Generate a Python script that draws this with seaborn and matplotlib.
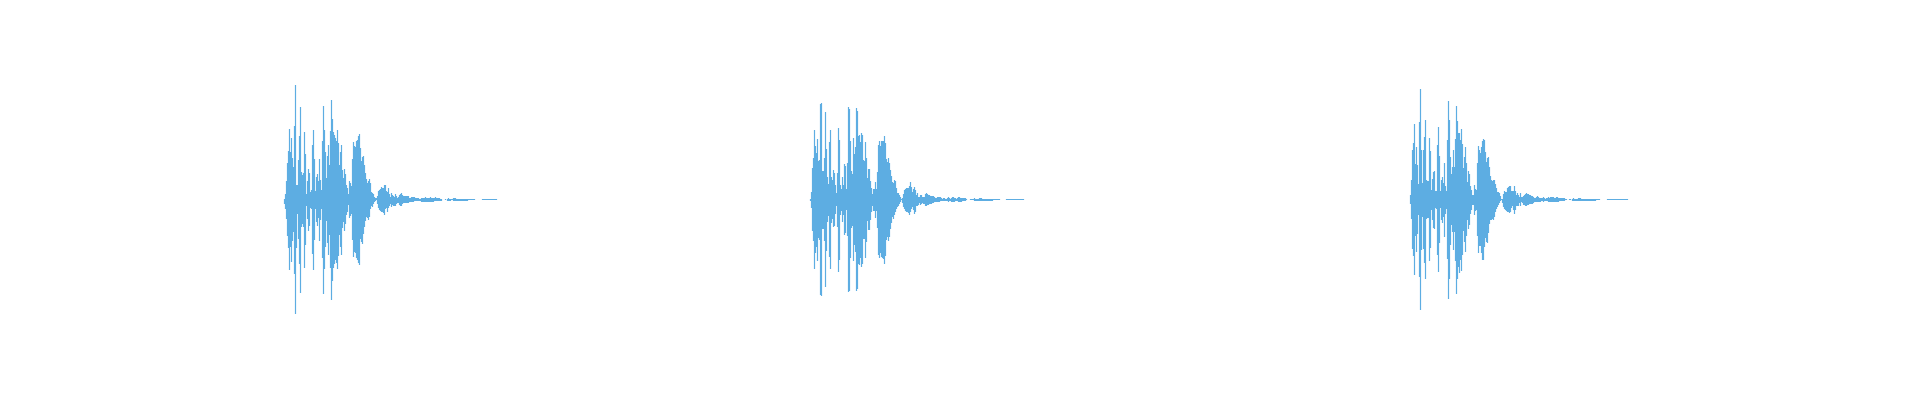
import numpy as np
import pandas as pd
import seaborn as sns
import matplotlib.pyplot as plt

nan = np.nan

# envelope of each waveform, one value per time step
top_a = [1, 6, 19, 37, 49, 71, 48, 62, 42, 33, 74, 115, 15, 15, 40, 64, 93, 28, 25, 27, 68, 46, 6, 19, 31, 27, 8, 10, 55, 70,
         41, 9, 23, 26, 19, 41, 20, 10, 59, 94, 70, 48, 22, 44, 55, 35, 69, 100, 81, 68, 65, 62, 59, 70, 57, 35, 48, 55, 30, 22,
         31, 26, 15, 12, 6, 19, 17, 14, 41, 58, 54, 53, 59, 60, 64, 66, 52, 39, 43, 44, 35, 27, 21, 17, 19, 21, 17, 8, 7, 6,
         3, 2, 2, 4, 9, 10, 11, 13, 12, 12, 15, 15, 9, 8, 12,
         6, 3, 7, 5, 4, 3, 6, 4, 2, 3, 5, 6, 7, 5, 4, 4, 4, 4, 4, 4,
         2, 2, 3, 3, 3, 3, 2, 2, 2, 2, 1, 1, 2, 2, 2, 2, 3, 2, 2, 2,
         2, 3, 2, 2, 2, 2, 3, 2, 2, 2, 2, 1, 1, nan, nan, nan, 1, nan, 1, 2, 1, 1, 1, 1, 2, 2, 2,
         1, 1, 1, 1, 1, 1, 1, 1, 1, 1, 1, 1, 1, 1, 1, 1, 1, 1, 1,
         nan, nan, nan, nan, nan, nan, nan, 1, 1, 1, 1, 1, 1, 1, 1, 1, 1, 1, 1, 1, 1, 1]
bottom_a = [4, 9, 19, 36, 48, 70, 47, 62, 41, 32, 74, 114, 48, 14, 39, 64, 93, 27, 24, 27, 68, 45, 6, 19, 31, 26, 8, 9, 54, 70,
            40, 9, 22, 26, 18, 41, 20, 9, 58, 94, 69, 47, 21, 43, 55, 35, 68, 100, 81, 68, 64, 60, 63, 69, 56, 35, 47, 55, 28, 22,
            31, 24, 15, 12, 5, 18, 16, 14, 40, 57, 52, 53, 58, 60, 63, 65, 39, 42, 44, 34, 27, 21, 17, 18, 20, 17, 9, 6, 7, 4,
            2, 1, 0, 4, 8, 10, 11, 12, 12, 13, 15, 9, 8, 12, 8,
            6, 4, 7, 5, 6, 6, 6, 4, 3, 3, 5, 6, 6, 4, 3, 3, 3, 3, 3, 3,
            2, 2, 2, 2, 2, 1, 1, 1, 1, 1, 1, 1, 2, 2, 2, 2, 2, 2, 2, 2,
            2, 2, 2, 2, 2, 1, 1, 1, 1, 1, 1, 1, 1, nan, nan, nan, 0, nan, 1, 1, 1, 1, 0, 0, 1, 1, 1,
            1, 1, 1, 1, 1, 1, 1, 1, 1, 1, 1, 1, 0, 0, 0, 0, 0, 0, 0,
            nan, nan, nan, nan, nan, nan, nan, 0, 0, 0, 0, 0, 0, 0, 0, 0, 0, 0, 0, 0, 0, 0]

top_b = [1, 8, 32, 42, 70, 54, 47, 61, 39, 40, 96, 97, 29, 29, 42, 88, 51, 23, 16, 58, 70, 23, 20, 30, 27, 15, 7, 27, 72, 60,
         15, 11, 23, 15, 36, 34, 11, 37, 93, 91, 59, 29, 26, 62, 46, 53, 92, 89, 64, 65, 58, 67, 65, 40, 39, 58, 42, 22, 31, 31,
         19, 12, 6, 11, 11, 18, 11, 28, 55, 59, 54, 59, 59, 59, 64, 57, 41, 38, 42, 37, 30, 24, 18, 17, 20, 19, 12, 7, 7, 5,
         3, 1, 2, 6, 10, 11, 12, 12, 12, 14, 18, 13, 8, 11,
         13, 10, 5, 7, 3, 3, 5, 5, 3, 3, 3, 6, 7, 6, 5, 5, 4, 4, 4, 4,
         3, 2, 2, 3, 3, 3, 3, 2, 1, 2, 2, 1, 1, 2, 3, 2, 1, 2, 3, 3,
         2, 2, 1, 2, 3, 3, 2, 2, 2, 2, 2, 2, 1, nan, nan, nan, 1, 1, 1, 1,
         2, 1, 1, 1, 1, 2, 2, 2, 1, 1, 1, 1, 1, 1, 1, 1, 1, 1, 1,
         1, 1, 1, 1, 1, 1, 1, nan, nan, nan, nan, nan, nan,
         1, 1, 1, 1, 1, 1, 1, 1, 1, 1, 1, 1, 1, 1, 1, 1, 1, 1]
bottom_b = [1, 8, 31, 41, 69, 53, 47, 61, 38, 40, 95, 96, 29, 29, 41, 87, 51, 22, 16, 57, 69, 23, 19, 27, 26, 14, 6, 27, 72, 60,
            15, 11, 22, 15, 35, 33, 10, 36, 92, 91, 58, 28, 26, 61, 45, 52, 91, 89, 64, 65, 58, 67, 64, 39, 39, 58, 42, 21, 30, 30,
            20, 12, 6, 11, 11, 18, 11, 28, 55, 58, 53, 57, 58, 59, 64, 56, 40, 37, 41, 37, 29, 23, 17, 19, 15, 12, 9, 7, 6, 4,
            2, 0, 3, 7, 9, 11, 12, 12, 13, 15, 12, 9, 7, 10,
            14, 12, 6, 6, 5, 3, 5, 4, 3, 4, 4, 6, 6, 5, 5, 4, 4, 4, 3, 3,
            2, 2, 2, 2, 2, 2, 1, 1, 1, 1, 1, 1, 1, 1, 2, 1, 1, 2, 2, 2,
            2, 1, 1, 1, 2, 2, 2, 2, 1, 1, 1, 1, 0, nan, nan, nan, 0, 0, 0, 0,
            1, 1, 1, 1, 1, 1, 1, 1, 1, 1, 1, 1, 1, 1, 1, 1, 1, 1, 1,
            0, 0, 0, 0, 0, 0, 0, nan, nan, nan, nan, nan, nan,
            0, 0, 0, 0, 0, 0, 0, 0, 0, 0, 0, 0, 0, 0, 0, 0, 0, 0]

top_c = [5, 20, 50, 57, 76, 36, 53, 35, 16, 78, 111, 50, 17, 50, 63, 80, 20, 19, 19, 62, 49, 10, 21, 28, 29, 9, 9, 55, 73, 44,
         9, 20, 23, 17, 37, 14, 9, 60, 99, 80, 43, 26, 33, 50, 33, 61, 94, 79, 67, 67, 60, 71, 56, 32, 43, 53, 37, 18, 29, 26,
         14, 10, 5, 5, 15, 11, 10, 37, 54, 50, 47, 53, 59, 61, 60, 48, 38, 42, 43, 33, 24, 20, 19, 20, 20, 16, 12, 8, 8, 7,
         4, 1, 1, 6, 9, 8, 8, 12, 13, 14, 14, 9, 9, 9,
         14, 9, 5, 7, 5, 3, 7, 3, 3, 4, 5, 6, 7, 6, 6, 5, 5, 4, 4, 3,
         2, 2, 3, 4, 3, 2, 2, 2, 2, 3, 2, 1, 2, 2, 3, 2, 3, 3, 3, 3,
         2, 2, 3, 3, 2, 2, 2, 2, 2, 2, 2, 1, 1, nan, nan, 1, 1, nan,
         1, 2, 1, 1, 1, 1, 2, 2, 2, 1, 1, 1, 1, 1, 1, 1, 1, 1, 1, 1, 1, 1, 1, 1,
         1, 1, 1, 1, nan, nan, nan, nan, nan, nan, nan,
         1, 1, 1, 1, 1, 1, 1, 1, 1, 1, 1, 1, 1, 1, 1, 1, 1, 1, 1, 1, 1]
bottom_c = [4, 19, 49, 56, 75, 36, 52, 34, 15, 77, 110, 50, 17, 49, 63, 79, 19, 18, 18, 61, 48, 10, 20, 28, 29, 8, 9, 55, 72, 43,
            8, 20, 23, 17, 37, 14, 9, 59, 99, 79, 45, 25, 32, 50, 32, 61, 94, 79, 67, 73, 60, 71, 55, 31, 42, 52, 36, 20, 29, 25,
            14, 10, 5, 5, 15, 11, 10, 36, 53, 46, 46, 53, 60, 60, 47, 38, 42, 43, 33, 24, 20, 20, 19, 20, 17, 12, 9, 7, 5, 3,
            1, 0, 3, 7, 9, 10, 11, 12, 12, 13, 12, 8, 6, 10,
            14, 10, 6, 6, 6, 3, 6, 2, 3, 5, 5, 6, 6, 5, 5, 4, 4, 4, 4, 3,
            2, 2, 2, 2, 2, 2, 2, 1, 1, 2, 1, 1, 1, 1, 2, 2, 2, 2, 2, 2,
            2, 2, 2, 2, 2, 1, 1, 1, 1, 1, 1, 0, 0, nan, nan, 0, 0, nan,
            1, 1, 1, 1, 1, 1, 1, 1, 1, 1, 1, 1, 1, 1, 1, 1, 1, 1, 1, 1, 1, 1, 1, 1,
            0, 0, 0, 0, nan, nan, nan, nan, nan, nan, nan,
            0, 0, 0, 0, 0, 0, 0, 0, 0, 0, 0, 0, 0, 0, 0, 0, 0, 0, 0, 0, 0]

waves = [(top_a, bottom_a), (top_b, bottom_b), (top_c, bottom_c)]
lead_in = [284, 170, 130]  # empty time before each clip starts

WAVE_COLOR = "#5DADE2"


def wave_frame(top, bottom):
    # one short vertical stroke per time step, gaps are left out
    rows = []
    for step, (up, down) in enumerate(zip(top, bottom)):
        if np.isnan(up):
            continue
        rows.append({"t": step + 0.5, "amp": up, "step": step})
        rows.append({"t": step + 0.5, "amp": -down, "step": step})
    return pd.DataFrame(rows)


sns.set_theme(style="white")
fig, axes = plt.subplots(1, 3, figsize=(19.2, 4), dpi=100, sharey=True)
fig.subplots_adjust(left=0, right=1, bottom=0, top=1, wspace=0)

for ax, (top, bottom), lead in zip(axes, waves, lead_in):
    # snap off, snapped strokes left pale streaks between the steps
    sns.lineplot(ax=ax, data=wave_frame(top, bottom), x="t", y="amp", units="step",
                 estimator=None, sort=False, color=WAVE_COLOR, linewidth=0.85,
                 solid_capstyle="butt", snap=False, legend=False)
    ax.set_xlim(-lead, 640 - lead)
    ax.set_ylim(-200, 200)
    ax.set_axis_off()

fig.savefig("out.png", dpi=100, facecolor="white")
